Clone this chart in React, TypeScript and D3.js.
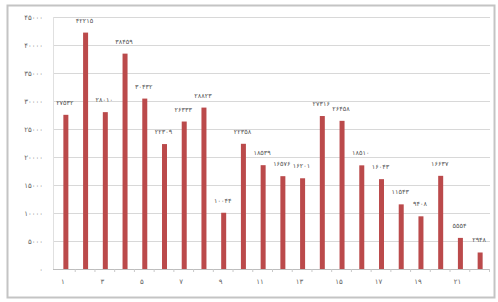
import React, { useEffect, useRef } from "react";
import * as d3 from "d3";

const categories: number[] = Array.from({ length: 22 }, (_, i) => i + 1);
const values: number[] = [
  27532, 42215, 28010, 38459, 30432, 22309, 26333, 28823, 10044, 22358, 18539,
  16576, 16201, 27316, 26458, 18510, 16043, 11543, 9408, 16637, 5554, 2948,
];
const yTicks: number[] = [0, 5000, 10000, 15000, 20000, 25000, 30000, 35000, 40000, 45000];
const xTickLabels: number[] = [1, 3, 5, 7, 9, 11, 13, 15, 17, 19, 21];

const fa = (n: number) =>
  String(n).replace(/[0-9]/g, (d) => "۰۱۲۳۴۵۶۷۸۹"[+d]);

const W = 498;
const H = 302;
const M = { left: 53, right: 11, top: 17, bottom: 33 };

export default function App() {
  const ref = useRef<SVGSVGElement>(null);

  useEffect(() => {
    const svg = d3.select(ref.current);
    svg.selectAll("*").remove();

    const x = d3
      .scaleBand<number>()
      .domain(categories)
      .range([M.left, W - M.right])
      .paddingInner(0)
      .paddingOuter(0);
    const y = d3.scaleLinear().domain([0, 45000]).range([H - M.bottom, M.top]);

    svg.append("rect").attr("width", W).attr("height", H).attr("fill", "#fff");
    svg
      .append("rect")
      .attr("x", 7.5)
      .attr("y", 5.5)
      .attr("width", 487)
      .attr("height", 292)
      .attr("fill", "none")
      .attr("stroke", "#c4c4c4")
      .attr("stroke-width", 2);

    const font = "DejaVu Sans, sans-serif";

    svg
      .append("g")
      .selectAll("line")
      .data(yTicks)
      .join("line")
      .attr("x1", M.left)
      .attr("x2", W - M.right + 3)
      .attr("y1", (d) => Math.round(y(d)) + 0.5)
      .attr("y2", (d) => Math.round(y(d)) + 0.5)
      .attr("stroke", (d) => (d === 0 ? "#bdbdbd" : "#d8d8d8"))
      .attr("stroke-width", 1);

    svg
      .append("line")
      .attr("x1", M.left + 0.5)
      .attr("x2", M.left + 0.5)
      .attr("y1", M.top)
      .attr("y2", y(0))
      .attr("stroke", "#e0e0e0");

    svg
      .append("g")
      .selectAll("text")
      .data(yTicks)
      .join("text")
      .attr("x", 43)
      .attr("y", (d) => y(d) + 2.5)
      .attr("text-anchor", "end")
      .attr("font-family", font)
      .attr("font-size", 7)
      .attr("fill", "#666")
      .text((d) => fa(d));

    svg
      .append("g")
      .selectAll("line")
      .data(categories)
      .join("line")
      .attr("x1", (d) => (x(d) as number) + x.bandwidth() + 2.5)
      .attr("x2", (d) => (x(d) as number) + x.bandwidth() + 2.5)
      .attr("y1", y(0))
      .attr("y2", y(0) + 3)
      .attr("stroke", "#c8c8c8");

    const bw = 5;
    svg
      .append("g")
      .selectAll("rect")
      .data(values)
      .join("rect")
      .attr("x", (d, i) => (x(categories[i]) as number) + x.bandwidth() / 2 + 0.5)
      .attr("y", (d) => y(d))
      .attr("width", bw)
      .attr("height", (d) => y(0) - y(d))
      .attr("fill", "#bb4a4b");

    svg
      .append("g")
      .selectAll("text")
      .data(values)
      .join("text")
      .attr("x", (d, i) => (x(categories[i]) as number) + x.bandwidth() / 2 + 2)
      .attr("y", (d) => y(d) - 10)
      .attr("text-anchor", "middle")
      .attr("font-family", font)
      .attr("font-size", 6.5)
      .attr("fill", "#555")
      .text((d) => fa(d));

    svg
      .append("g")
      .selectAll("text")
      .data(xTickLabels)
      .join("text")
      .attr("x", (d) => (x(d) as number) + x.bandwidth() / 2)
      .attr("y", y(0) + 15)
      .attr("text-anchor", "middle")
      .attr("font-family", font)
      .attr("font-size", 7)
      .attr("fill", "#666")
      .text((d) => fa(d));
  }, []);

  return (
    <div style={{ position: "absolute", left: 0, top: 0 }}>
      <svg ref={ref} width={W} height={H} style={{ display: "block" }} />
    </div>
  );
}
